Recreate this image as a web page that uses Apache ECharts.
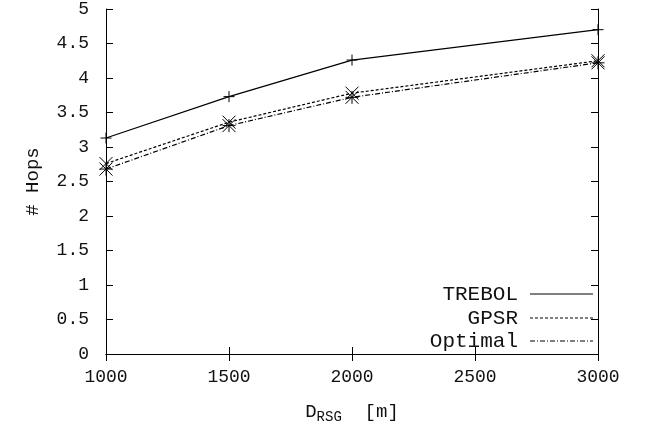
<!DOCTYPE html>
<html>
<head>
<meta charset="utf-8">
<script src="https://cdn.jsdelivr.net/npm/echarts@6/dist/echarts.min.js"></script>
<style>
  html, body { margin: 0; padding: 0; background: #fff; }
  #chart { width: 652px; height: 431px; }
</style>
</head>
<body>
<div id="chart"></div>
<script>
// distance D_RSG [m]
const distances = [1000, 1500, 2000, 3000];
const trebol = [3.13, 3.73, 4.26, 4.70];
const gpsr = [2.76, 3.36, 3.78, 4.25];
const optimal = [2.68, 3.31, 3.72, 4.22];
const names = ['TREBOL', 'GPSR', 'Optimal'];

const FONT = '"Liberation Mono", "DejaVu Sans Mono", monospace';
const plus = 'path://M0 5L10 5M5 0L5 10';
const cross = 'path://M0 0L10 10M10 0L0 10';
const star = 'path://M0 5L10 5M5 0L5 10M0 0L10 10M10 0L0 10';

function pairs(vals) {
  return distances.map((d, i) => [d, vals[i]]);
}

function series(name, vals, dash, symbol, size) {
  return {
    name, type: 'line', data: pairs(vals),
    symbol, symbolSize: size,
    lineStyle: { color: '#000', width: 1.2, type: dash },
    itemStyle: { color: 'transparent', borderColor: '#000', borderWidth: 1 },
    emphasis: { disabled: true },
    animation: false
  };
}

const chart = echarts.init(document.getElementById('chart'));
const axisLine = { show: true, lineStyle: { color: '#000', width: 1 } };
const tick = { show: true, inside: true, length: 7, lineStyle: { color: '#000' } };
const label = { color: '#111', fontFamily: FONT, fontSize: 18, formatter: v => String(v) };

// legend drawn by hand (gnuplot style, line samples on the right)
const legendRows = [
  { y: 294, dash: null },
  { y: 318, dash: [3, 2] },
  { y: 341, dash: [5, 2, 1, 2] }
];
const legendGraphics = [];
legendRows.forEach((r, i) => {
  legendGraphics.push({
    type: 'text', x: 518, y: r.y,
    style: { text: names[i], font: '21px ' + FONT, fill: '#111', align: 'right', verticalAlign: 'middle' }
  });
  legendGraphics.push({
    type: 'line', shape: { x1: 530, y1: r.y, x2: 593, y2: r.y },
    style: { stroke: '#000', lineWidth: 1.2, lineDash: r.dash }
  });
});

chart.setOption({
  animation: false,
  grid: { left: 106, right: 54, top: 7, bottom: 77 },
  xAxis: [
    {
      type: 'value', min: 1000, max: 3000, interval: 500,
      axisLine, axisTick: tick, splitLine: { show: false },
      axisLabel: { ...label, margin: 14 },
      name: '{d|D}{s|RSG}{d|  [m]}', nameLocation: 'middle', nameGap: 46,
      nameTextStyle: {
        rich: {
          d: { fontFamily: FONT, fontSize: 19, color: '#111' },
          s: { fontFamily: FONT, fontSize: 14, color: '#111', padding: [10, 0, 0, 0] }
        }
      }
    },
    {
      type: 'value', min: 1000, max: 3000, interval: 500, position: 'top',
      axisLine, axisTick: tick, axisLabel: { show: false }, splitLine: { show: false }
    }
  ],
  yAxis: [
    {
      type: 'value', min: 0, max: 5, interval: 0.5,
      axisLine, axisTick: tick, splitLine: { show: false },
      axisLabel: { ...label, margin: 17 },
      name: '# Hops', nameLocation: 'middle', nameGap: 64,
      nameTextStyle: { fontFamily: FONT, fontSize: 19, color: '#111' }
    },
    {
      type: 'value', min: 0, max: 5, interval: 0.5, position: 'right',
      axisLine, axisTick: tick, axisLabel: { show: false }, splitLine: { show: false }
    }
  ],
  graphic: legendGraphics,
  series: [
    series(names[0], trebol, 'solid', plus, 11),
    series(names[1], gpsr, [3, 2], cross, 13),
    series(names[2], optimal, [5, 2, 1, 2], star, 13)
  ]
});
</script>
</body>
</html>
